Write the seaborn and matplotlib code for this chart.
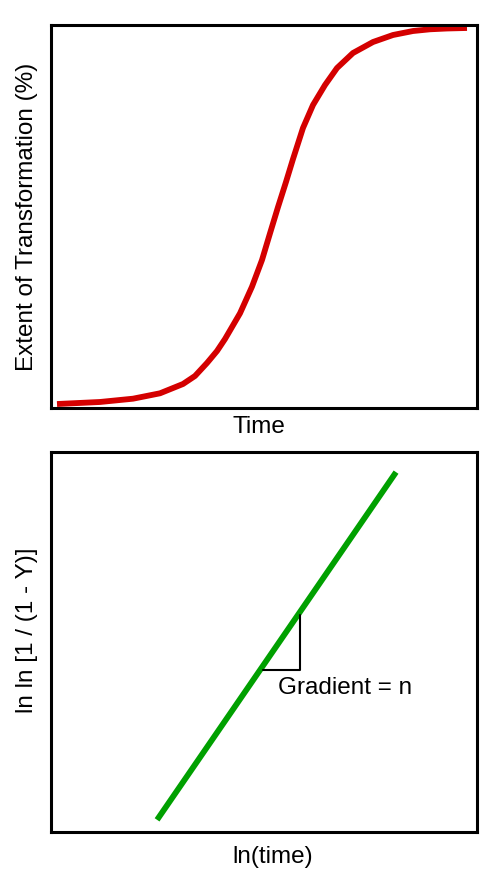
import pandas as pd
import matplotlib
matplotlib.use("Agg")
import matplotlib.pyplot as plt
import seaborn as sns

# datos
tiempo = [0.141, 1.150, 1.925, 2.559, 3.099, 3.380, 3.662, 3.897, 4.085, 4.437,
          4.718, 4.953, 5.141, 5.329, 5.516, 5.681, 5.915, 6.150, 6.432, 6.714,
          7.089, 7.559, 8.028, 8.498, 8.897, 9.296, 9.765]
extension = [1.04, 1.57, 2.43, 3.84, 6.27, 8.36, 11.75, 14.88, 18.02, 24.73,
             31.67, 38.64, 45.61, 52.48, 59.01, 65.01, 73.11, 79.11, 84.33, 88.77,
             92.69, 95.56, 97.39, 98.43, 98.88, 99.09, 99.22]

ln_tiempo = [2.49, 8.10]
ln_ln = [0.32, 9.47]

# triangulo de la pendiente
tri_x = [4.98, 5.85, 5.85]
tri_y = [4.26, 4.26, 5.71]

sns.set_theme(style="white")
plt.rcParams['font.family'] = ['Liberation Sans', 'DejaVu Sans']
plt.rcParams['text.color'] = 'black'
plt.rcParams['axes.labelcolor'] = 'black'

fig = plt.figure(figsize=(5, 8.89), dpi=100)
ax1 = fig.add_axes([51/500, (889-408)/889, 426/500, 383/889])
ax2 = fig.add_axes([51/500, (889-832)/889, 426/500, 380/889])

# curva sigmoidal
df1 = pd.DataFrame({'t': tiempo, 'x': extension})
sns.lineplot(data=df1, x='t', y='x', ax=ax1, color='#d40000', linewidth=4.2,
             solid_capstyle='butt', solid_joinstyle='round', sort=False)
ax1.set_xlim(0, 10)
ax1.set_ylim(0, 100)

# recta de Avrami
df2 = pd.DataFrame({'t': ln_tiempo, 'y': ln_ln})
sns.lineplot(data=df2, x='t', y='y', ax=ax2, color='#00a000', linewidth=4.2,
             solid_capstyle='butt')
ax2.plot(tri_x, tri_y, color='black', linewidth=1.5)
ax2.text(5.33, 3.80, 'Gradient = n', fontsize=17.5, ha='left', va='center')
ax2.set_xlim(0, 10)
ax2.set_ylim(0, 10)

ax1.set_xlabel('Time', fontsize=17.5, labelpad=5.5)
ax1.set_ylabel('Extent of Transformation (%)', fontsize=17.5, labelpad=9)
ax2.set_xlabel('ln(time)', fontsize=17.5, labelpad=10)
ax2.set_ylabel('ln ln [1 / (1 - Y)]', fontsize=17.5, labelpad=9)
ax1.xaxis.label.set_x(0.488)
ax2.xaxis.label.set_x(0.521)
ax2.yaxis.label.set_y(0.53)

for ax in (ax1, ax2):
    ax.set_xticks([])
    ax.set_yticks([])
    for s in ax.spines.values():
        s.set_color('black')
        s.set_linewidth(2.2)

fig.savefig('out.png', dpi=100, facecolor='white')
